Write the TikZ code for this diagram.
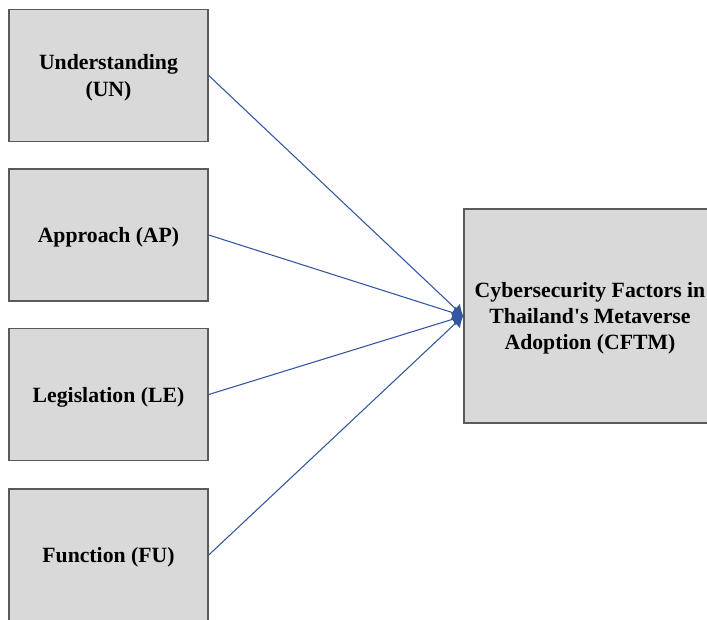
\documentclass[tikz,border=0pt]{standalone}
\usepackage{fontspec}
\setmainfont{Liberation Serif}[Ligatures=TeXOff]
\usetikzlibrary{arrows.meta}
\definecolor{boxfill}{HTML}{D9D9D9}
\definecolor{boxline}{HTML}{5A5A5A}
\definecolor{linkblue}{HTML}{3356A0}
\begin{document}
\begin{tikzpicture}[x=0.75pt,y=-0.75pt,
  labeltext/.style={align=center, text depth=0pt, font=\fontsize{16.3}{19.8}\selectfont\bfseries},
  factor/.style={draw=boxline, line width=1.1pt, fill=boxfill, inner sep=0pt,
    minimum width=149.25pt, minimum height=99pt, labeltext},
  outcome/.style={factor, minimum width=189pt, minimum height=160.5pt},
  link/.style={draw=linkblue, line width=0.8pt, -{Latex[length=8pt,width=10pt]}}]
\useasboundingbox (0,0) rectangle (707,619);
\clip (0,0) rectangle (707,619);
\node[factor] (un) at (108.5,75.5) {Understanding\\(UN)};
\node[factor] (ap) at (108.5,235) {Approach (AP)};
\node[factor] (le) at (108.5,394.5) {Legislation (LE)};
\node[factor] (fu) at (108.5,555) {Function (FU)};
\node[outcome] (cf) at (590,316) {Cybersecurity Factors in\\Thailand's Metaverse\\Adoption (CFTM)};
\draw[link] (un.east) -- (cf.west);
\draw[link] (ap.east) -- (cf.west);
\draw[link] (le.east) -- (cf.west);
\draw[link] (fu.east) -- (cf.west);
\end{tikzpicture}
\end{document}
